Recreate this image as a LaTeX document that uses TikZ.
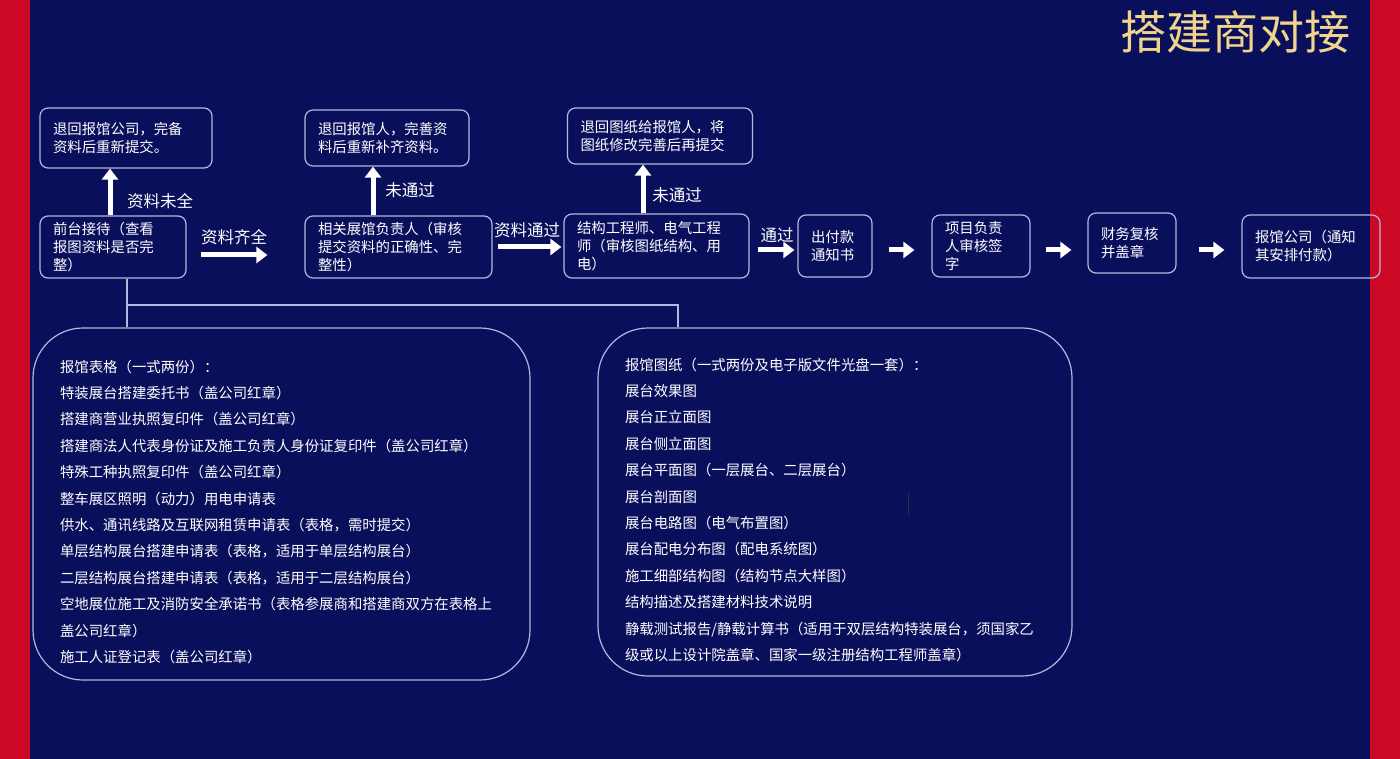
\documentclass[tikz,border=0pt]{standalone}
\usepackage{fontspec}
\newfontfamily\cjk{Noto Sans CJK SC}
\usetikzlibrary{arrows.meta}

\definecolor{navy}{HTML}{0A0F5C}
\definecolor{stripe}{HTML}{CC0A26}
\definecolor{edge}{HTML}{B4B8DC}
\definecolor{gold}{HTML}{EFD48C}

\tikzset{
  box/.style={draw=edge, line width=1.2pt, rounded corners=8pt, text=white,
    align=left, inner xsep=13pt, inner ysep=3pt,
    font=\cjk\fontsize{14.4}{18}\selectfont},
  bigbox/.style={box, rounded corners=50pt, inner xsep=27pt,
    font=\cjk\fontsize{14.4}{26.4}\selectfont},
  lbl/.style={text=white, inner sep=0pt, font=\cjk\fontsize{16.5}{18}\selectfont},
  flow/.style={white, line width=5pt, -{Triangle[length=11pt,width=16pt]}},
  tie/.style={draw=edge, line width=1.2pt},
}

\begin{document}
\begin{tikzpicture}[x=1pt,y=-1pt]
    % Background
    \fill[navy] (0,0) rectangle (1400,759);
    \fill[stripe] (0,0) rectangle (30,759);
    \fill[stripe] (1370,0) rectangle (1400,759);
    \useasboundingbox (0,0) rectangle (1400,759);
    % Title
    \node[text=gold, anchor=east, font=\cjk\fontsize{46}{50}\selectfont] (title) at (1354,32) {搭建商对接};
    % Main row
    \node[box, text width=120pt, minimum height=62pt] (desk) at (113,247) {前台接待（查看\\报图资料是否完\\整）};
    \node[box, text width=161pt, minimum height=62pt] (hall) at (398.5,247) {相关展馆负责人（审核\\提交资料的正确性、完\\整性）};
    \node[box, text width=159pt, minimum height=64pt] (eng) at (656.5,246) {结构工程师、电气工程\\师（审核图纸结构、用\\电）};
    \node[box, text width=48pt, minimum height=62pt] (notice) at (835,246) {出付款\\通知书};
    \node[box, text width=72pt, minimum height=62pt] (sign) at (981,246) {项目负责\\人审核签\\字};
    \node[box, text width=62pt, minimum height=60pt] (finance) at (1132,243) {财务复核\\并盖章};
    \node[box, text width=112pt, minimum height=63pt] (company) at (1311,246.5) {报馆公司（通知\\其安排付款）};
    % Returns
    \node[box, text width=146pt, minimum height=60pt] (back1) at (126,138) {退回报馆公司，完备\\资料后重新提交。};
    \node[box, text width=138pt, minimum height=56pt] (back2) at (387,138) {退回报馆人，完善资\\料后重新补齐资料。};
    \node[box, text width=159pt, minimum height=56pt] (back3) at (660,136) {退回图纸给报馆人，将\\图纸修改完善后再提交};
    % Up arrows
    \draw[flow] ([xshift=-3pt]desk.north) -- ([xshift=-3pt]desk.north |- back1.south);
    \node[lbl] (miss) at (160,201) {资料未全};
    \draw[flow] ([xshift=-25.5pt]hall.north) -- ([xshift=-25.5pt]hall.north |- back2.south);
    \node[lbl] (fail1) at (410,190) {未通过};
    \draw[flow] ([xshift=-13.5pt]eng.north) -- ([xshift=-13.5pt]eng.north |- back3.south);
    \node[lbl] (fail2) at (677,195) {未通过};
    % Right arrows
    \draw[flow] ([shift={(14pt,-8pt)}]desk.east) -- ([shift={(-37pt,-8pt)}]hall.west);
    \node[lbl] (full) at (234,237) {资料齐全};
    \draw[flow] ([xshift=5pt]hall.east) -- ([shift={(-2pt,-1pt)}]eng.west);
    \node[lbl] (pass1) at (527,230) {资料通过};
    \draw[flow] ([shift={(8pt,-4pt)}]eng.east) -- ([shift={(-3pt,-4pt)}]notice.west);
    \node[lbl] (pass2) at (777,235) {通过};
    \draw[flow] ([shift={(16pt,-4pt)}]notice.east) -- ([shift={(-17pt,-4pt)}]sign.west);
    \draw[flow] ([shift={(15pt,-4pt)}]sign.east) -- ([shift={(-16pt,-7pt)}]finance.west);
    \draw[flow] ([shift={(22pt,-7pt)}]finance.east) -- ([shift={(-17pt,-3.5pt)}]company.west);
    % Lists
    \node[bigbox, text width=443pt, minimum height=352pt] (forms) at (281.5,504) {\rule{0pt}{28pt}报馆表格（一式两份）：\\
      特装展台搭建委托书（盖公司红章）\\
      搭建商营业执照复印件（盖公司红章）\\
      搭建商法人代表身份证及施工负责人身份证复印件（盖公司红章）\\
      特殊工种执照复印件（盖公司红章）\\
      整车展区照明（动力）用电申请表\\
      供水、通讯线路及互联网租赁申请表（表格，需时提交）\\
      单层结构展台搭建申请表（表格，适用于单层结构展台）\\
      二层结构展台搭建申请表（表格，适用于二层结构展台）\\
      空地展位施工及消防安全承诺书（表格参展商和搭建商双方在表格上\\
      盖公司红章）\\
      施工人证登记表（盖公司红章）};
    \node[bigbox, text width=420pt, minimum height=348pt] (drawings) at (835,502) {\rule{0pt}{28pt}报馆图纸（一式两份及电子版文件光盘一套）：\\
      展台效果图\\
      展台正立面图\\
      展台侧立面图\\
      展台平面图（一层展台、二层展台）\\
      展台剖面图\\
      展台电路图（电气布置图）\\
      展台配电分布图（配电系统图）\\
      施工细部结构图（结构节点大样图）\\
      结构描述及搭建材料技术说明\\
      静载测试报告/静载计算书（适用于双层结构特装展台，须国家乙\\
      级或以上设计院盖章、国家一级注册结构工程师盖章）};
    % Branch to lists
    \coordinate (split) at (127,305);
    \coordinate (join) at (678,305);
    \draw[tie] (desk.south -| split) -- (split |- forms.north);
    \draw[tie] (split) -- (join) -- (join |- drawings.north);
    \draw[black!80, line width=1pt] (908,493) -- (908,515);
\end{tikzpicture}
\end{document}
